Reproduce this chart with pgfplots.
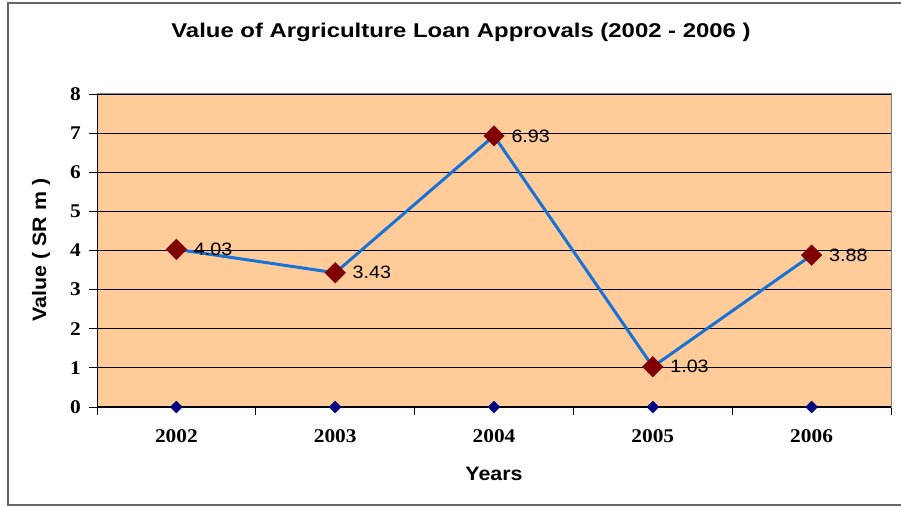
\documentclass[border=0pt]{standalone}
\usepackage{fontspec}
\setmainfont{Liberation Sans}[FakeStretch=1.1]
\newfontfamily\titlef{Liberation Sans}[FakeStretch=1.2]
\newfontfamily\timesf{Liberation Serif}[FakeStretch=1.1]
\usepackage{pgfplots}
\pgfplotsset{compat=1.18}
\definecolor{bgorange}{HTML}{FFCC99}
\definecolor{lineblue}{RGB}{22,114,214}
\definecolor{mkred}{HTML}{800000}
\definecolor{mknavy}{HTML}{000080}
\begin{document}
\begin{tikzpicture}
\useasboundingbox (-97bp,-101bp) rectangle (804bp,407bp);
\draw[black!60, line width=1.5bp] (-89bp,-98bp) rectangle (812bp,404bp);
\begin{axis}[
  at={(0,0)}, anchor=south west,
  scale only axis, width=794bp, height=313bp,
  xmin=-0.5, xmax=4.5, ymin=0, ymax=8,
  xtick={-0.5,0.5,1.5,2.5,3.5,4.5},
  xticklabels={2002,2003,2004,2005,2006},
  x tick label as interval,
  ytick={0,1,...,8},
  tick pos=left,
  tick align=outside,
  major tick length=8bp,
  tick style={black, line width=0.8bp},
  ymajorgrids, grid style={black, line width=0.8bp},
  axis background/.style={fill=bgorange},
  axis line style={draw=gray, line width=1bp},
  /pgf/number format/assume math mode=true,
  ticklabel style={font=\fontsize{19.5}{19.5}\timesf\bfseries},
  yticklabel style={inner sep=0pt, xshift=-8bp},
  xticklabel style={inner sep=0pt, yshift=-14bp},
  clip=false,
]
\draw[black, line width=1bp] (rel axis cs:0,1) -- (rel axis cs:0,0);
\draw[black, line width=2bp] (rel axis cs:0,0) -- (rel axis cs:1,0);
\addplot[draw=none, mark=square*, mark size=4.2bp,
  mark options={fill=mknavy, draw=mknavy, rotate=45}]
  coordinates {(0,0) (1,0) (2,0) (3,0) (4,0)};
\addplot[lineblue, line width=3bp, mark=square*, mark size=6bp,
  mark options={fill=mkred, draw=mkred, rotate=45},
  nodes near coords, point meta=explicit symbolic,
  nodes near coords style={anchor=west, inner sep=0pt, xshift=16bp,
    font=\fontsize{18}{18}\selectfont, text=black}]
  coordinates {(0,4.03) [4.03] (1,3.43) [3.43] (2,6.93) [6.93] (3,1.03) [1.03] (4,3.88) [3.88]};
\end{axis}
\node[font=\fontsize{20}{20}\titlef\bfseries] at (364bp,375bp) {Value of Argriculture Loan Approvals (2002 - 2006 )};
\node[font=\fontsize{19.5}{19.5}\selectfont\bfseries, rotate=90] at (-56bp,157bp) {Value ( SR m )};
\node[font=\fontsize{19.5}{19.5}\selectfont\bfseries] at (397bp,-67bp) {Years};
\end{tikzpicture}
\end{document}
